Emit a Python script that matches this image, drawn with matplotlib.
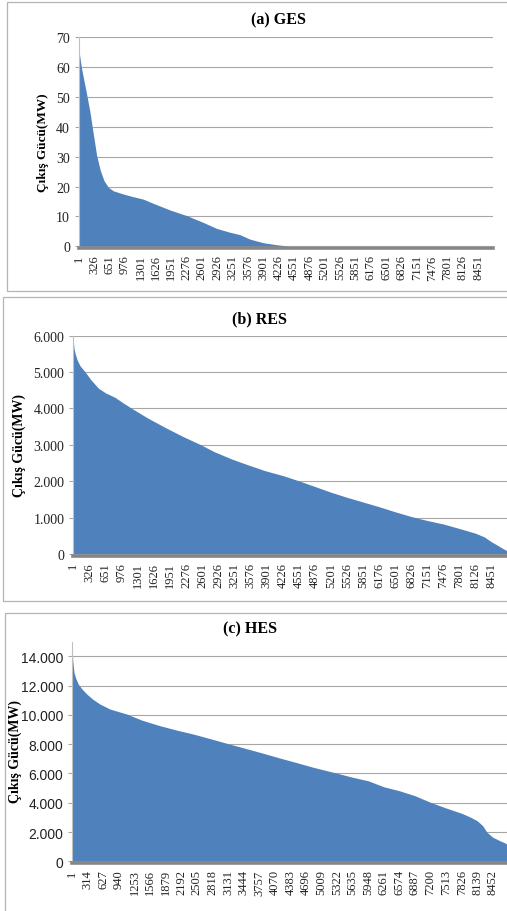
import matplotlib
matplotlib.use("Agg")
import matplotlib.pyplot as plt
from matplotlib.patches import Rectangle
from matplotlib.ticker import FuncFormatter

# ---------------- data ----------------
ges_hours = [1, 50, 92, 150, 233, 300, 374, 450, 530, 620, 726, 900, 1100, 1360,
             1571, 1920, 2277, 2630, 2913, 3196, 3405, 3619, 3900, 4150, 4400, 4450, 8760]
ges_mw = [65.5, 60, 56.6, 52, 45, 38, 30.5, 25.5, 22, 19.8, 18.6, 17.7, 16.8, 15.8,
          14.4, 12.2, 10.3, 8.0, 6.0, 4.7, 3.9, 2.4, 1.2, 0.6, 0.1, 0, 0]

res_hours = [1, 15, 40, 80, 136, 237, 350, 506, 650, 842, 1000, 1180, 1500, 1852,
             2200, 2580, 2850, 3200, 3550, 3873, 4243, 4580, 4870, 5200, 5523, 5850,
             6176, 6500, 6826, 7150, 7476, 7801, 8126, 8300, 8451, 8556, 8690, 8760]
res_mw = [5870, 5650, 5500, 5330, 5175, 5010, 4800, 4560, 4430, 4306, 4160, 4003, 3740, 3481,
          3240, 3000, 2810, 2611, 2440, 2290, 2152, 2000, 1860, 1700, 1560, 1430,
          1300, 1160, 1030, 920, 824, 700, 570, 470, 330, 250, 140, 90]

hes_hours = [1, 8, 20, 35, 70, 121, 200, 290, 420, 557, 758, 1094, 1400, 1764, 2100,
             2434, 2770, 3105, 3440, 3774, 4176, 4500, 4845, 5340, 5635, 5948, 6261,
             6574, 6887, 7200, 7513, 7826, 8000, 8139, 8250, 8330, 8452, 8600, 8760]
hes_mw = [14840, 13800, 13360, 12900, 12500, 12100, 11750, 11430, 11050, 10740, 10400,
          10060, 9640, 9260, 8960, 8690, 8380, 8060, 7750, 7440, 7050, 6750, 6420, 6000,
          5740, 5500, 5090, 4820, 4480, 4030, 3640, 3280, 3020, 2770, 2430, 2000, 1640,
          1400, 1150]

xticks_ab = [1, 326, 651, 976, 1301, 1626, 1951, 2276, 2601, 2926, 3251, 3576, 3901,
             4226, 4551, 4876, 5201, 5526, 5851, 6176, 6501, 6826, 7151, 7476, 7801,
             8126, 8451]
xticks_c = [1, 314, 627, 940, 1253, 1566, 1879, 2192, 2505, 2818, 3131, 3444, 3757,
            4070, 4383, 4696, 5009, 5322, 5635, 5948, 6261, 6574, 6887, 7200, 7513,
            7826, 8139, 8452]

titles = ["(a) GES", "(b) RES", "(c) HES"]
ylabel = "Çıkış Gücü(MW)"
n_hours = 8760

# ---------------- layout ----------------
W, H = 507, 912
fig = plt.figure(figsize=(W / 100, H / 100), dpi=100)
fig.patch.set_facecolor("white")

SERIF = "Liberation Serif"
SANS = "Liberation Sans"
FILL = "#4F81BD"
GRID = "#A6A6A6"


def rect(l, r, t, b):
    return [l / W, 1 - b / H, (r - l) / W, (b - t) / H]


def frame(l, t, r, b):
    fig.patches.append(Rectangle((l / W, 1 - b / H), (r - l) / W, (b - t) / H,
                                 transform=fig.transFigure, fill=False,
                                 edgecolor="#B4B4B4", lw=0.9))


def thousands(v, pos):
    return f"{int(round(v)):,}".replace(",", ".")


panels = [
    dict(hours=ges_hours, mw=ges_mw, ticks=xticks_ab, box=(79, 492.9, 38.3, 247.3),
         ylim=(0, 70), yticks=list(range(0, 71, 10)), fmt=None, yfont=SERIF,
         title_xy=(278, 20), ylab_xy=(43, 143), ylab_size=9.5, frame=(6.7, 2.7, 520, 292)),
    dict(hours=res_hours, mw=res_mw, ticks=xticks_ab, box=(73.3, 507.0, 336.7, 555),
         ylim=(0, 6000), yticks=list(range(0, 6001, 1000)), fmt=thousands, yfont=SERIF,
         title_xy=(259, 319), ylab_xy=(19, 446), ylab_size=10, frame=(3.3, 298.3, 520, 601.7)),
    dict(hours=hes_hours, mw=hes_mw, ticks=xticks_c, box=(72.3, 508.1, 642.7, 862.3),
         ylim=(0, 15000), yticks=list(range(0, 14001, 2000)), fmt=thousands, yfont=SANS,
         title_xy=(250, 629), ylab_xy=(15, 752), ylab_size=10, frame=(4.7, 614.3, 520, 930)),
]

for p, title in zip(panels, titles):
    frame(*p["frame"])
    ax = fig.add_axes(rect(*p["box"]))
    ax.set_facecolor("none")
    ax.fill_between(p["hours"], p["mw"], 0, color=FILL, lw=0, zorder=2)
    ax.set_xlim(1, n_hours)
    ax.set_ylim(*p["ylim"])
    ax.set_yticks(p["yticks"])
    if p["fmt"] is not None:
        ax.yaxis.set_major_formatter(FuncFormatter(p["fmt"]))
    ax.yaxis.grid(True, color=GRID, lw=0.8, zorder=0)
    ax.set_axisbelow(True)
    ax.set_xticks(p["ticks"])
    ax.set_xticklabels([str(t) for t in p["ticks"]])
    ax.tick_params(axis="x", length=0, pad=4.5, labelrotation=90, labelsize=9,
                   labelfontfamily=SERIF, labelcolor="#222222")
    ax.tick_params(axis="y", direction="out", length=3, width=0.8, color=GRID,
                   labelsize=10, pad=3.5, labelfontfamily=p["yfont"], labelcolor="#222222")
    for lbl in ax.get_xticklabels():
        lbl.set_rotation(90)
        lbl.set_ha("center")
        lbl.set_va("top")
    for s in ("top", "right"):
        ax.spines[s].set_visible(False)
    ax.spines["left"].set_color("#BFBFBF")
    ax.spines["left"].set_linewidth(0.8)
    ax.spines["bottom"].set_color("#868686")
    ax.spines["bottom"].set_linewidth(2.6)
    ax.spines["bottom"].set_position(("outward", 1.3))
    ax.spines["bottom"].set_zorder(3)
    fig.text(p["title_xy"][0] / W, 1 - p["title_xy"][1] / H, title, ha="center",
             va="center", fontfamily=SERIF, fontweight="bold", fontsize=11.5)
    fig.text(p["ylab_xy"][0] / W, 1 - p["ylab_xy"][1] / H, ylabel, ha="center",
             va="center", rotation=90, fontfamily=SERIF, fontweight="bold",
             fontsize=p["ylab_size"])

fig.savefig("out.png", dpi=100, facecolor="white")
